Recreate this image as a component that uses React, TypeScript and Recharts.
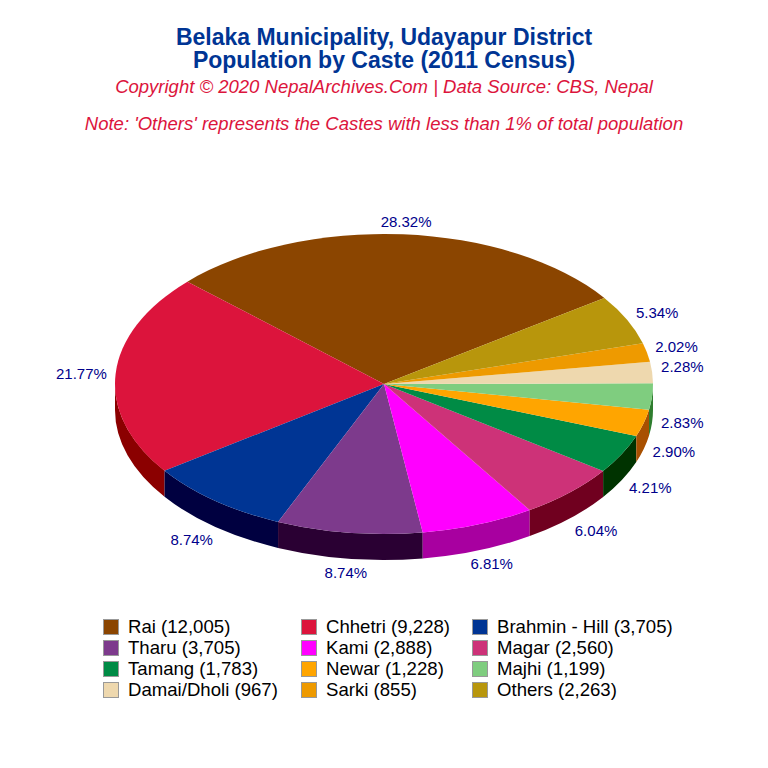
import { PieChart, Pie, Legend } from 'recharts'

const castes = ['Rai', 'Chhetri', 'Brahmin - Hill', 'Tharu', 'Kami', 'Magar', 'Tamang', 'Newar', 'Majhi', 'Damai/Dholi', 'Sarki', 'Others']
const population = [12005, 9228, 3705, 3705, 2888, 2560, 1783, 1228, 1199, 967, 855, 2263]
const colors = ['#8B4500', '#DC143C', '#003594', '#7D3A8C', '#FF00FF', '#CD3278', '#008B45', '#FFA500', '#7FCD7F', '#EED8AE', '#EE9A00', '#B8960C']
const sideColors = ['#5A2D00', '#8B0000', '#000040', '#2A0033', '#A800A0', '#70001F', '#003300', '#A85000', '#2E7D2E', '#9A8C70', '#A86C00', '#7A6408']
// small hand offsets for the percent labels
const labelNudgeX = [1, -2, -3, 1, 2, 4, 0, -1, -2, -2, -2, 1]
const labelNudgeY = [2, 1, 1, -1, -1, 1, 0, -1, -1, -5, -3, -1]

const total = population.reduce((a, b) => a + b, 0)
const rows = castes.map((name, i) => ({ name, value: population[i], fill: colors[i], side: sideColors[i] }))

const CX = 384
const CY = 384
const RX = 269
const RY = 150
const DEPTH = 26
const FONT = '"Liberation Sans", Arial, sans-serif'

const pt = (a: number, dy = 0) => {
  const r = (a * Math.PI) / 180
  return { x: CX + RX * Math.cos(r), y: CY - RY * Math.sin(r) + dy }
}

function EllipseSlice(props: any) {
  const { startAngle, endAngle, fill, side } = props
  const s = pt(startAngle)
  const e = pt(endAngle)
  const large = endAngle - startAngle > 180 ? 1 : 0
  const a0 = Math.max(startAngle, 180)
  const a1 = Math.min(endAngle, 360)
  let wall = null
  if (a1 > a0) {
    const p0 = pt(a0)
    const p1 = pt(a1)
    const q0 = pt(a0, DEPTH)
    const q1 = pt(a1, DEPTH)
    const d = `M${p0.x},${p0.y}A${RX},${RY} 0 0 0 ${p1.x},${p1.y}L${q1.x},${q1.y}A${RX},${RY} 0 0 1 ${q0.x},${q0.y}Z`
    wall = <path d={d} fill={side} />
  }
  return (
    <g>
      {wall}
      <path d={`M${CX},${CY}L${s.x},${s.y}A${RX},${RY} 0 ${large} 0 ${e.x},${e.y}Z`} fill={fill} />
    </g>
  )
}

function sliceLabel(props: any) {
  const r = (props.midAngle * Math.PI) / 180
  const i = props.index
  const x = CX + RX * 1.12 * Math.cos(r) + labelNudgeX[i]
  const sin = Math.sin(r)
  const y = CY - RY * 1.1 * sin + (sin < 0 ? DEPTH : 0) + labelNudgeY[i]
  return (
    <text x={x} y={y} textAnchor="middle" dominantBaseline="central" fontSize={15} fontFamily={FONT} fill="#00008B">
      {((props.value / total) * 100).toFixed(2) + '%'}
    </text>
  )
}

const legendX = [103, 301, 472]

function LegendGrid({ payload }: any) {
  return (
    <div style={{ position: 'relative', width: 768, height: 90, fontFamily: FONT, fontSize: 18.6, color: '#000' }}>
      {(payload || []).map((item: any, i: number) => (
        <div key={item.value} style={{ position: 'absolute', left: legendX[i % 3], top: Math.floor(i / 3) * 21, height: 21, whiteSpace: 'nowrap', lineHeight: '21px' }}>
          <span style={{ position: 'absolute', left: 0, top: 3, width: 14, height: 14, background: item.color, border: '0.5px solid #999' }} />
          <span style={{ position: 'absolute', left: 25, top: 0 }}>
            {item.value} ({item.payload.value.toLocaleString('en-US')})
          </span>
        </div>
      ))}
    </div>
  )
}

export default function App() {
  return (
    <div style={{ position: 'absolute', left: 0, top: 0, width: 768, height: 768, background: '#fff' }}>
      <PieChart width={768} height={768} margin={{ top: 0, right: 0, bottom: 0, left: 0 }}>
        <text x={384} y={45} textAnchor="middle" fontSize={23} fontWeight="bold" fontFamily={FONT} fill="#003594">
          Belaka Municipality, Udayapur District
        </text>
        <text x={384} y={68} textAnchor="middle" fontSize={23} fontWeight="bold" fontFamily={FONT} fill="#003594">
          Population by Caste (2011 Census)
        </text>
        <text x={384} y={93} textAnchor="middle" fontSize={18.5} fontStyle="italic" fontFamily={FONT} fill="#DC143C">
          Copyright © 2020 NepalArchives.Com | Data Source: CBS, Nepal
        </text>
        <text x={384} y={130} textAnchor="middle" fontSize={18.5} fontStyle="italic" fontFamily={FONT} fill="#DC143C">
          Note: 'Others' represents the Castes with less than 1% of total population
        </text>
        <Pie
          data={rows}
          dataKey="value"
          nameKey="name"
          cx={CX}
          cy={CY}
          outerRadius={RX}
          startAngle={35}
          endAngle={395}
          stroke="none"
          shape={EllipseSlice}
          label={sliceLabel}
          labelLine={false}
          isAnimationActive={false}
        />
        <Legend itemSorter={null} content={<LegendGrid />} wrapperStyle={{ left: 0, top: 616, width: 768, bottom: 'auto' }} />
      </PieChart>
    </div>
  )
}
